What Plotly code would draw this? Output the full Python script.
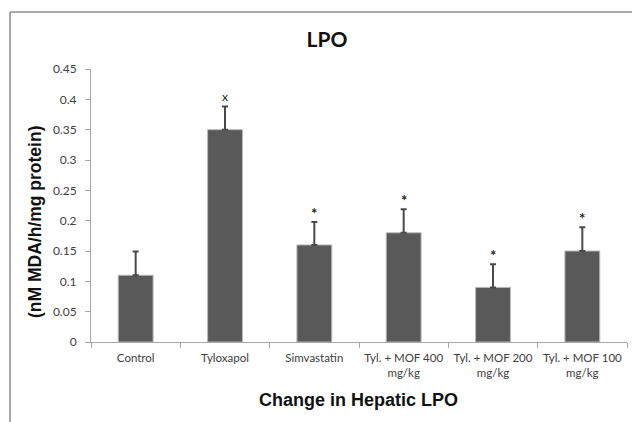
import plotly.graph_objects as go

categories = ["Control", "Tyloxapol", "Simvastatin",
              "Tyl. + MOF 400<br>mg/kg", "Tyl. + MOF 200<br>mg/kg", "Tyl. + MOF 100<br>mg/kg"]
lpo_values = [0.11, 0.35, 0.16, 0.18, 0.09, 0.15]
lpo_errors = [0.039, 0.038, 0.038, 0.039, 0.038, 0.039]
sig_marks = ["", "x", "*", "*", "*", "*"]
y_ticks = [0, 0.05, 0.1, 0.15, 0.2, 0.25, 0.3, 0.35, 0.4, 0.45]
y_tick_labels = ["0", "0.05", "0.1", "0.15", "0.2", "0.25", "0.3", "0.35", "0.4", "0.45"]

W, H = 632, 422
ML, MR, MT, MB = 91, 5, 69, 80
pw = W - ML - MR
ph = H - MT - MB

def px_x(p):
    return (p - ML) / pw

def px_y(p):
    return (H - MB - p) / ph

fig = go.Figure()
fig.add_trace(go.Bar(
    x=categories, y=lpo_values,
    width=0.39,
    marker=dict(color="#595959", line=dict(color="#b8b8b8", width=1)),
    error_y=dict(type="data", array=lpo_errors, arrayminus=[0] * len(lpo_errors),
                 symmetric=False, color="#4a4a4a", thickness=2, width=3),
    showlegend=False,
))

for c, v, e, s in zip(categories, lpo_values, lpo_errors, sig_marks):
    if s:
        fig.add_annotation(x=c, y=v + e, text=s if s == "x" else "<b>*</b>",
                           showarrow=False, yanchor="bottom",
                           yshift=1 if s == "x" else -2,
                           font=dict(family="Lato", size=12 if s == "x" else 15,
                                     color="#222222"))

fig.add_annotation(xref="paper", yref="paper", x=px_x(35), y=px_y(222),
                   xanchor="center", yanchor="middle",
                   text="<b>(nM MDA/h/mg protein)</b>", textangle=-90, showarrow=False,
                   font=dict(family="Liberation Sans", size=17.5, color="#111111"))
fig.add_annotation(xref="paper", yref="paper", x=px_x(358), y=px_y(400),
                   xanchor="center", yanchor="middle",
                   text="<b>Change in Hepatic LPO</b>", showarrow=False,
                   font=dict(family="Liberation Sans", size=18, color="#111111"))

# outer frame (top and left edges visible)
fig.add_shape(type="line", xref="paper", yref="paper",
              x0=px_x(10), y0=px_y(12), x1=px_x(640), y1=px_y(12),
              line=dict(color="#8c8c8c", width=1.5))
fig.add_shape(type="line", xref="paper", yref="paper",
              x0=px_x(10), y0=px_y(12), x1=px_x(10), y1=px_y(430),
              line=dict(color="#8c8c8c", width=1.5))

fig.update_layout(
    width=W, height=H,
    margin=dict(l=ML, r=MR, t=MT, b=MB),
    paper_bgcolor="white", plot_bgcolor="white",
    title=dict(text="<b>LPO</b>", x=327 / W, y=1 - 40 / H, xanchor="center",
               yanchor="middle", font=dict(family="Lato", size=21, color="#111111")),
    xaxis=dict(showline=True, linecolor="#a6a6a6", linewidth=1,
               ticks="outside", ticklen=5, tickcolor="#a6a6a6", tickson="boundaries",
               ticklabelstandoff=5, tickangle=0, automargin=False,
               tickfont=dict(family="Lato", size=11.5, color="#404040"),
               showgrid=False, zeroline=False),
    yaxis=dict(range=[0, 0.45], tickvals=y_ticks, ticktext=y_tick_labels,
               showline=True, linecolor="#a6a6a6", linewidth=1,
               ticks="outside", ticklen=5, tickcolor="#a6a6a6",
               ticklabelstandoff=6, automargin=False,
               tickfont=dict(family="Lato", size=12, color="#404040"),
               showgrid=False, zeroline=False),
    bargap=0.6,
)

fig.write_html("out.html", config={"displayModeBar": False},
               post_script="document.body.style.margin='0';document.body.style.padding='0';")
